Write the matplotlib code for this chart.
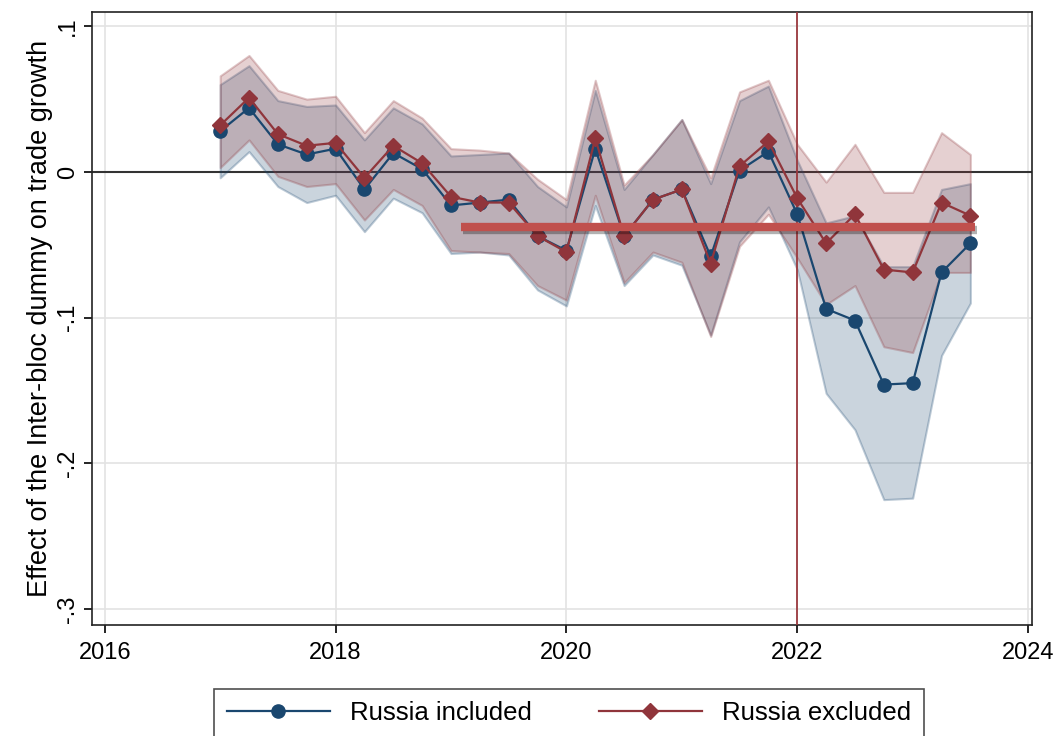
import numpy as np
import matplotlib
matplotlib.use("Agg")
import matplotlib.pyplot as plt
import matplotlib.patheffects as pe

plt.rcParams['font.family'] = ['Liberation Sans', 'DejaVu Sans']

quarters = np.arange(2017.0, 2023.51, 0.25)

incl = [0.028, 0.044, 0.019, 0.012, 0.016, -0.012, 0.013, 0.002, -0.023, -0.021,
        -0.019, -0.044, -0.054, 0.016, -0.044, -0.019, -0.012, -0.058, 0.001, 0.014,
        -0.029, -0.094, -0.102, -0.146, -0.145, -0.069, -0.049]
incl_hi = [0.060, 0.073, 0.049, 0.045, 0.046, 0.022, 0.044, 0.033, 0.011, 0.012,
           0.013, -0.010, -0.024, 0.056, -0.012, 0.012, 0.036, -0.008, 0.049, 0.059,
           0.008, -0.035, -0.030, -0.065, -0.065, -0.012, -0.008]
incl_lo = [-0.004, 0.014, -0.010, -0.021, -0.016, -0.041, -0.018, -0.028, -0.056, -0.055,
           -0.057, -0.081, -0.092, -0.023, -0.078, -0.057, -0.064, -0.112, -0.048, -0.024,
           -0.067, -0.152, -0.177, -0.225, -0.224, -0.126, -0.090]

excl = [0.032, 0.051, 0.026, 0.018, 0.020, -0.004, 0.018, 0.006, -0.017, -0.021,
        -0.021, -0.044, -0.055, 0.023, -0.044, -0.019, -0.012, -0.063, 0.004, 0.021,
        -0.018, -0.049, -0.029, -0.067, -0.069, -0.021, -0.030]
excl_hi = [0.066, 0.080, 0.056, 0.050, 0.052, 0.027, 0.049, 0.037, 0.016, 0.015,
           0.013, -0.005, -0.019, 0.063, -0.009, 0.012, 0.036, -0.004, 0.055, 0.063,
           0.019, -0.007, 0.019, -0.014, -0.014, 0.027, 0.012]
excl_lo = [0.003, 0.022, -0.003, -0.010, -0.008, -0.033, -0.012, -0.023, -0.054, -0.055,
           -0.056, -0.078, -0.088, -0.016, -0.076, -0.055, -0.062, -0.113, -0.051, -0.029,
           -0.059, -0.091, -0.078, -0.120, -0.124, -0.069, -0.069]

highlight_x = [2019.09, 2023.54]
highlight_y = -0.038

blue = '#1a476f'
red = '#90353b'

fig = plt.figure(figsize=(10.58, 7.36), dpi=100)
ax = fig.add_axes([0.087, 0.151, 0.888, 0.833])

ax.fill_between(quarters, incl_lo, incl_hi, facecolor=(0.10, 0.28, 0.44, 0.23),
                edgecolor=(0.10, 0.28, 0.44, 0.28), linewidth=1.5, zorder=2)
ax.fill_between(quarters, excl_lo, excl_hi, facecolor=(0.56, 0.21, 0.23, 0.23),
                edgecolor=(0.56, 0.21, 0.23, 0.28), linewidth=1.5, zorder=2)

ax.axhline(0, color='#333333', linewidth=1.5, zorder=1.5)
ax.axvline(2022, color='#9b3a3f', linewidth=1.3, zorder=3)

ax.plot(quarters, incl, color=blue, marker='o', markersize=9.5, linewidth=1.6,
        label='Russia included', zorder=4)
ax.plot(quarters, excl, color=red, marker='D', markersize=8.5, linewidth=1.6,
        label='Russia excluded', zorder=5)

ax.plot(highlight_x, [highlight_y, highlight_y], color='#c0504d', linewidth=6,
        solid_capstyle='butt', zorder=6,
        path_effects=[pe.SimpleLineShadow(offset=(1.5, -2), alpha=0.3), pe.Normal()])

ax.set_xlim(2015.89, 2024.03)
ax.set_ylim(-0.311, 0.11)
ax.set_xticks([2016, 2018, 2020, 2022, 2024])
ax.set_yticks([-0.3, -0.2, -0.1, 0, 0.1])
ax.set_yticklabels(['-.3', '-.2', '-.1', '0', '.1'], rotation=90, va='center')
ax.tick_params(labelsize=17, length=6, width=1.2, direction='out')
ax.tick_params(axis='x', pad=6)
ax.grid(True, color='#e3e3e3', linewidth=1.2, zorder=0)
ax.set_axisbelow(True)
for s in ax.spines.values():
    s.set_linewidth(1.2)
    s.set_color('#222222')

ax.set_ylabel('Effect of the Inter-bloc dummy on trade growth', fontsize=19.5, labelpad=3)

leg = ax.legend(loc='upper center', bbox_to_anchor=(0.508, -0.083), ncol=2,
                fontsize=18.5, frameon=True, fancybox=False, edgecolor='#222222',
                handlelength=4, columnspacing=2.6, borderpad=0.5)
leg.get_frame().set_linewidth(1.2)

fig.savefig('out.png', dpi=100)
